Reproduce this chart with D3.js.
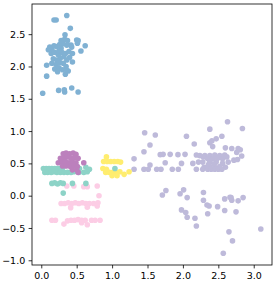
<html>
  <head>
    <script src="https://cdn.jsdelivr.net/npm/d3@7"></script>
  </head>
  <body>
    <style>
      body{
        margin: 0;
        padding: 0;
        background-color: white;
      }
      svg text{
        font-family: "DejaVu Sans", sans-serif;
        font-size: 9.5px;
        fill: #000;
      }
    </style>
    <div id="chart"></div>
    <script>
      // cluster points, [x, y]
      var lavender = [
        [2.63,1.145],[2.38,1.03],[2.84,1.04],[1.46,0.975],[1.61,0.94],[2.05,0.92],[2.55,0.92],[2.47,0.88],
        [2.41,0.85],[2.38,0.82],[1.535,0.785],[2.16,0.80],[2.42,0.76],[2.60,0.74],[2.69,0.73],[2.78,0.73],
        [2.76,0.67],[2.81,0.71],[1.45,0.68],[1.68,0.635],[1.72,0.64],[1.82,0.64],[1.93,0.635],[2.03,0.64],
        [1.31,0.57],[1.75,0.51],[1.98,0.50],[1.535,0.475],[2.14,0.50],[2.19,0.63],[2.29,0.60],[2.83,0.615],
        [2.24,0.62],[2.31,0.62],[2.38,0.62],[2.45,0.63],[2.52,0.62],[2.59,0.63],[2.62,0.60],[2.35,0.57],
        [2.42,0.57],[2.49,0.58],[2.56,0.57],[2.22,0.52],[2.28,0.52],[2.38,0.52],[2.47,0.52],[2.56,0.50],
        [2.64,0.52],[2.72,0.55],[2.77,0.56],[2.30,0.44],[2.38,0.45],[2.45,0.44],[2.52,0.45],[2.60,0.44],
        [2.36,0.48],[2.44,0.49],
        [1.31,0.41],[1.45,0.41],[1.51,0.41],[1.63,0.41],[1.69,0.41],[1.85,0.41],[1.935,0.41],[2.19,0.41],
        [2.28,0.41],[2.35,0.41],[2.40,0.41],[2.45,0.41],[2.50,0.41],[2.55,0.41],
        [1.76,0.08],[1.71,0.01],[2.01,0.09],[1.96,0.03],[2.06,-0.03],[2.29,0.05],[2.29,-0.07],[2.34,-0.145],
        [2.37,-0.16],[2.49,-0.17],[2.59,-0.05],[2.665,-0.025],[2.69,-0.07],[2.68,-0.03],[2.78,-0.08],[2.85,-0.03],
        [1.98,-0.22],[2.04,-0.26],[2.06,-0.335],[2.17,-0.35],[2.19,-0.47],[2.35,-0.28],[2.59,-0.23],[2.75,-0.25],
        [2.65,-0.56],[2.70,-0.70],[2.57,-0.89],[3.10,-0.515]
      ];
      var yellow = [
        [0.92,0.60],[0.88,0.53],[0.93,0.53],[0.98,0.53],[1.03,0.53],[1.08,0.53],[1.12,0.52],[0.87,0.42],
        [0.91,0.36],[0.96,0.36],[1.01,0.36],[1.06,0.36],[1.11,0.37],[1.00,0.31],[1.07,0.31],[1.17,0.33],
        [1.24,0.37],[0.92,0.41]
      ];
      var pink = [
        [0.36,0.15],[0.46,0.15],[0.60,0.14],[0.65,0.14],[0.79,0.15],
        [0.28,-0.12],[0.33,-0.12],[0.38,-0.11],[0.43,-0.12],[0.48,-0.11],[0.53,-0.12],[0.58,-0.11],
        [0.63,-0.12],[0.68,-0.12],[0.74,-0.12],[0.80,-0.11],[0.415,-0.185],[0.65,-0.18],[0.815,0.0],[0.79,-0.16],
        [0.15,-0.38],[0.20,-0.38],[0.37,-0.39],[0.42,-0.38],[0.47,-0.38],[0.52,-0.37],[0.57,-0.38],
        [0.62,-0.38],[0.71,-0.38],[0.76,-0.38],[0.83,-0.38],[0.32,-0.44],[0.57,-0.42],[0.65,-0.45]
      ];
      var teal = [
        [0.03,0.42],[0.07,0.42],[0.11,0.42],[0.15,0.42],[0.19,0.42],[0.23,0.42],[0.27,0.42],[0.30,0.43],
        [0.05,0.36],[0.09,0.36],[0.14,0.36],[0.18,0.37],[0.22,0.36],[0.27,0.36],[0.32,0.36],[0.37,0.36],
        [0.42,0.36],[0.46,0.37],[0.53,0.36],[0.60,0.36],[0.65,0.37],[0.68,0.41],[0.63,0.44],[0.54,0.42],
        [0.15,0.19],[0.19,0.20],[0.23,0.18],[0.27,0.20],[0.31,0.19],[0.44,0.19],[0.63,0.19],
        [0.31,0.04],[1.04,0.42]
      ];
      var purple = [
        [0.31,0.65],[0.35,0.66],[0.40,0.65],[0.45,0.66],[0.49,0.64],
        [0.27,0.58],[0.32,0.59],[0.37,0.60],[0.42,0.58],[0.47,0.59],[0.52,0.58],
        [0.24,0.51],[0.29,0.52],[0.34,0.53],[0.39,0.51],[0.44,0.52],[0.49,0.51],[0.60,0.51],
        [0.30,0.46],[0.35,0.46],[0.41,0.45],[0.46,0.47],[0.51,0.45],
        [0.44,0.40],[0.50,0.40],[0.52,0.36]
      ];
      var blue = [
        [0.18,2.72],[0.21,2.72],[0.36,2.79],[0.41,2.59],[0.335,2.49],[0.52,2.40],[0.51,2.36],[0.62,2.32],
        [0.56,2.24],[0.42,2.33],[0.44,2.07],[0.076,2.02],[0.076,1.85],[0.02,1.585],[0.245,1.63],[0.325,1.64],
        [0.33,1.605],[0.43,1.667],[0.52,1.605],[0.50,2.41],
        [0.12,2.30],[0.15,2.27],[0.10,2.26],[0.18,2.32],[0.22,2.31],[0.26,2.34],[0.30,2.35],[0.33,2.42],
        [0.37,2.40],[0.28,2.40],[0.36,2.33],[0.43,2.30],[0.14,2.20],[0.19,2.22],[0.24,2.18],[0.29,2.22],
        [0.34,2.20],[0.39,2.23],[0.44,2.20],[0.17,2.12],[0.22,2.10],[0.27,2.13],[0.32,2.15],[0.36,2.10],
        [0.40,2.14],[0.15,2.05],[0.21,2.03],[0.26,2.06],[0.31,2.05],[0.35,2.00],[0.19,1.96],[0.25,1.98],
        [0.30,1.95],[0.36,1.94],[0.23,1.92],[0.34,1.88],[0.38,1.93],[0.28,2.28],[0.25,2.24]
      ];

      var xTicks = [0.0, 0.5, 1.0, 1.5, 2.0, 2.5, 3.0];
      var yTicks = [-1.0, -0.5, 0.0, 0.5, 1.0, 1.5, 2.0, 2.5];

      var series = [
        {pts: lavender, color: "#bebada"},
        {pts: yellow, color: "#ffed6f"},
        {pts: pink, color: "#fccde5"},
        {pts: teal, color: "#8dd3c7"},
        {pts: purple, color: "#bc80bd"},
        {pts: blue, color: "#80b1d3"}
      ];

      var width = 274, height = 299;
      var margin = {top: 4, right: 2, bottom: 34, left: 32};

      var svg = d3.select("#chart").append("svg")
        .attr("width", width)
        .attr("height", height);

      var x = d3.scaleLinear().domain([-0.131, 3.258]).range([margin.left, width - margin.right]);
      var y = d3.scaleLinear().domain([-1.073, 2.967]).range([height - margin.bottom, margin.top]);

      var fmt = function(d){
        var s = Math.abs(d).toFixed(1);
        return d < 0 ? "\u2212" + s : s;
      };

      series.forEach(function(s){
        svg.append("g").selectAll("circle")
          .data(s.pts)
          .enter().append("circle")
          .attr("cx", function(d){ return x(d[0]); })
          .attr("cy", function(d){ return y(d[1]); })
          .attr("r", 2.8)
          .style("fill", s.color);
      });

      var xAxis = svg.append("g")
        .attr("transform", "translate(0," + (height - margin.bottom) + ")")
        .call(d3.axisBottom(x).tickValues(xTicks).tickFormat(fmt).tickSize(3.4).tickPadding(3.4));
      var yAxis = svg.append("g")
        .attr("transform", "translate(" + margin.left + ",0)")
        .call(d3.axisLeft(y).tickValues(yTicks).tickFormat(fmt).tickSize(3.4).tickPadding(3.4));

      [xAxis, yAxis].forEach(function(a){
        a.attr("font-size", null).attr("font-family", null);
        a.select(".domain").remove();
        a.selectAll("line").attr("stroke", "#000").attr("stroke-width", 0.8);
      });
      xAxis.selectAll("text").attr("dy", "0.75em");

      // frame
      svg.append("rect")
        .attr("x", margin.left)
        .attr("y", margin.top)
        .attr("width", width - margin.left - margin.right)
        .attr("height", height - margin.top - margin.bottom)
        .style("fill", "none")
        .style("stroke", "#000")
        .style("stroke-width", 0.8);
    </script>
  </body>
</html>
